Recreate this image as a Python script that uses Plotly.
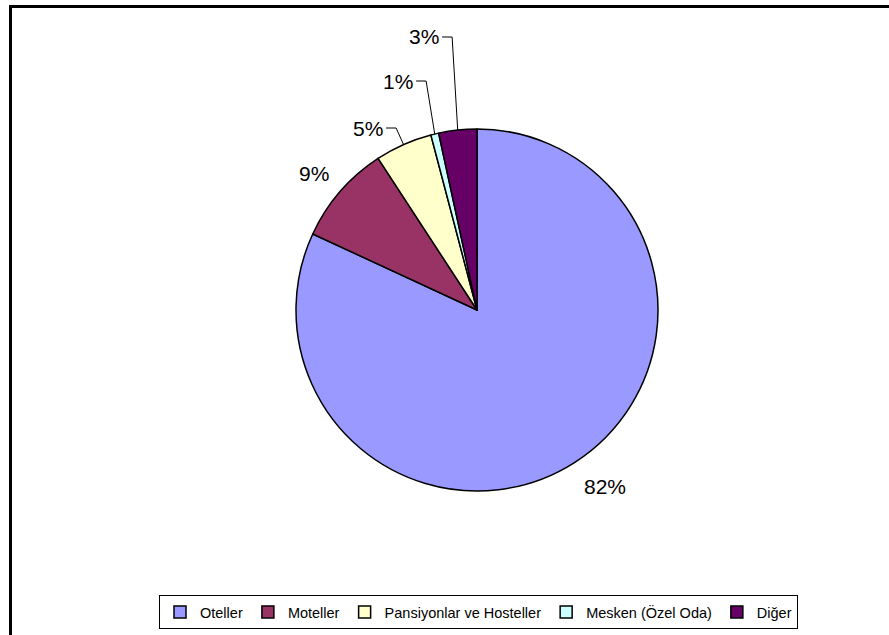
import math
import plotly.graph_objects as go

# data
categories = ["Oteller", "Moteller", "Pansiyonlar ve Hosteller", "Mesken (Özel Oda)", "Diğer"]
shares = [81.9, 8.9, 5.1, 0.7, 3.4]
colors = ["#9999FF", "#993366", "#FFFFCC", "#CCFFFF", "#660066"]

W, H = 889, 635
CX, CY, R = 477, 310, 181          # pie centre / radius in pixels
LABEL_FONT = 21

# label placement: None = next to the slice, otherwise pixel centre of a label with a leader line
label_pos = [None, None, (368, 128), (398, 81), (424, 37)]


def px(x):
    return x / W


def py(y):
    return 1 - y / H


def arc_point(frac, r):
    a = math.radians(frac * 360)
    return CX + r * math.sin(a), CY - r * math.cos(a)


fig = go.Figure(go.Pie(
    labels=categories, values=shares, sort=False, direction="clockwise",
    marker=dict(colors=colors, line=dict(color="black", width=1.5)),
    textinfo="none", hoverinfo="label+percent",
    domain=dict(x=[px(CX - R), px(CX + R)], y=[py(CY + R), py(CY - R)]),
))

total = sum(shares)
annotations = []
shapes = []
cum = 0
for i, v in enumerate(shares):
    mid = (cum + v / 2) / total
    cum += v
    txt = f"{round(v / total * 100)}%"
    w = 0.72 * LABEL_FONT * len(txt)
    h = LABEL_FONT
    if label_pos[i] is None:
        ax, ay = arc_point(mid, R + 14)
        a = math.radians(mid * 360)
        lx = ax + math.copysign(w / 2, math.sin(a))
        ly = ay + math.copysign(h / 2, -math.cos(a)) + 2
    else:
        lx, ly = label_pos[i]
        ex, ey = arc_point(mid, R)
        x0 = lx + w / 2 + 3
        shapes.append(dict(
            type="path", xref="paper", yref="paper",
            path=f"M{px(x0)},{py(ly)} L{px(x0 + 10)},{py(ly)} L{px(ex)},{py(ey)}",
            line=dict(color="black", width=1),
        ))
    annotations.append(dict(
        x=px(lx), y=py(ly), xref="paper", yref="paper", text=txt, showarrow=False,
        font=dict(family="Liberation Sans, Arial", size=LABEL_FONT, color="black"),
        xanchor="center", yanchor="middle",
    ))

# outer frame
shapes.append(dict(type="rect", xref="paper", yref="paper",
                   x0=px(10.5), y0=py(650), x1=px(900), y1=py(6.5),
                   line=dict(color="black", width=3)))

fig.update_layout(
    width=W, height=H,
    margin=dict(l=0, r=0, t=0, b=0),
    paper_bgcolor="white", plot_bgcolor="white",
    annotations=annotations, shapes=shapes,
    showlegend=True,
    legend=dict(
        orientation="h", x=px(478.5), xanchor="center", y=py(629), yanchor="bottom",
        font=dict(family="Liberation Sans, Arial", size=14.5, color="black"),
        bordercolor="black", borderwidth=1, bgcolor="white",
        tracegroupgap=0, itemwidth=30,
    ),
)

fig.write_html("out.html", config={"displayModeBar": False},
               post_script="document.body.style.margin='0';document.body.style.overflow='hidden';")
